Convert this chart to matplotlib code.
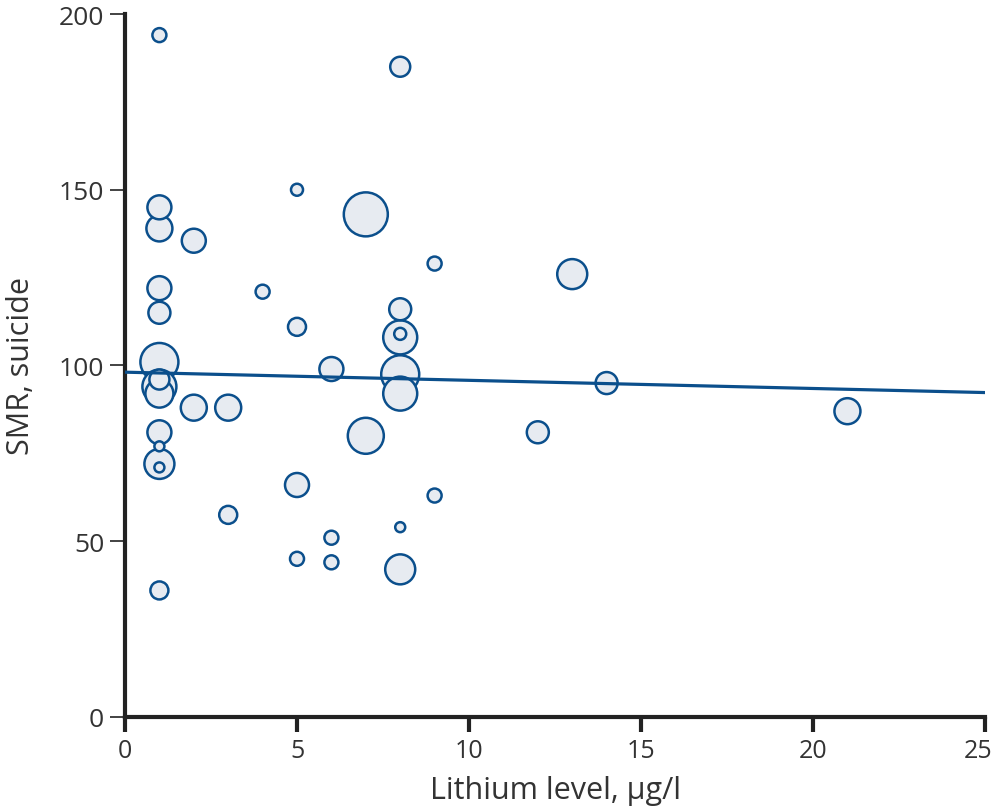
import matplotlib

matplotlib.use("Agg")
import matplotlib.pyplot as plt
import matplotlib.transforms as mtransforms
import numpy as np

# lithium level (ug/l), SMR suicide, relative bubble radius
lithium = [1, 1, 1, 2, 1, 1, 1, 1, 1, 1, 2, 3, 1, 1, 1, 1, 3, 1,
           4, 5, 5, 5, 5, 6, 6, 6, 7, 7, 8, 8, 8, 8, 8, 8, 8, 8,
           9, 9, 12, 13, 14, 21]
smr = [194, 145, 139, 135.5, 122, 115, 101, 96, 94, 92, 88, 88, 81, 77, 72, 71, 57.5, 36,
       121, 150, 111, 66, 45, 99, 51, 44, 143, 80, 185, 116, 108, 109, 97.5, 92, 54, 42,
       129, 63, 81, 126, 95, 87]
radius = [7, 12, 13, 12, 12, 11, 19, 10, 17, 14, 13, 13, 12, 5, 15, 5, 9, 9,
          7, 6, 9, 12, 7, 12, 7, 7, 22, 18, 10, 11, 17, 6, 19, 17, 5, 15,
          7, 7, 11, 15, 11, 13]

# fitted regression line end points
fit_x = [0, 25]
fit_y = [98.1, 92.3]

x_ticks = [0, 5, 10, 15, 20, 25]
y_ticks = [0, 50, 100, 150, 200]

EDGE = "#0b4f8c"
FACE = "#e7ebf1"
AXIS = "#222222"
TEXT = "#333333"

plt.rcParams["font.family"] = ["Open Sans", "DejaVu Sans"]

fig = plt.figure(figsize=(9.96, 8.12), dpi=100)
ax = fig.add_axes([0.1255, 0.1158, 0.8635, 0.8657])

order = np.argsort(radius)[::-1]
xs = np.array(lithium)[order]
ys = np.array(smr)[order]
rs = np.array(radius)[order]
sizes = (2 * rs * 0.72) ** 2
ax.scatter(xs, ys, s=sizes, facecolor=FACE, edgecolor=EDGE, linewidth=1.8,
           zorder=3, clip_on=False)

ax.plot(fit_x, fit_y, color=EDGE, lw=2.3, zorder=4, solid_capstyle="butt")

ax.set_xlim(0, 25)
ax.set_ylim(0, 200)
ax.set_xticks(x_ticks)
ax.set_yticks(y_ticks)

for side in ("top", "right"):
    ax.spines[side].set_visible(False)
for side in ("left", "bottom"):
    ax.spines[side].set_linewidth(3)
    ax.spines[side].set_color(AXIS)

ax.tick_params(axis="x", direction="out", length=11, width=3, color=AXIS,
               labelsize=18, labelcolor=TEXT, pad=4)
ax.tick_params(axis="y", direction="out", length=11, width=1.2, color=AXIS,
               labelsize=19, labelcolor=TEXT, pad=4)

# nudge the last x tick label so it stays inside the canvas
last = ax.get_xticklabels()[-1]
last.set_transform(last.get_transform()
                   + mtransforms.ScaledTranslation(-5 / 72, 0, fig.dpi_scale_trans))

ax.set_xlabel("Lithium level, μg/l", fontsize=22, color=TEXT)
ax.set_ylabel("SMR, suicide", fontsize=22, color=TEXT)
ax.xaxis.set_label_coords(0.5, -0.083)
ax.yaxis.set_label_coords(-0.103, 0.5)

fig.savefig("out.png", dpi=100)
